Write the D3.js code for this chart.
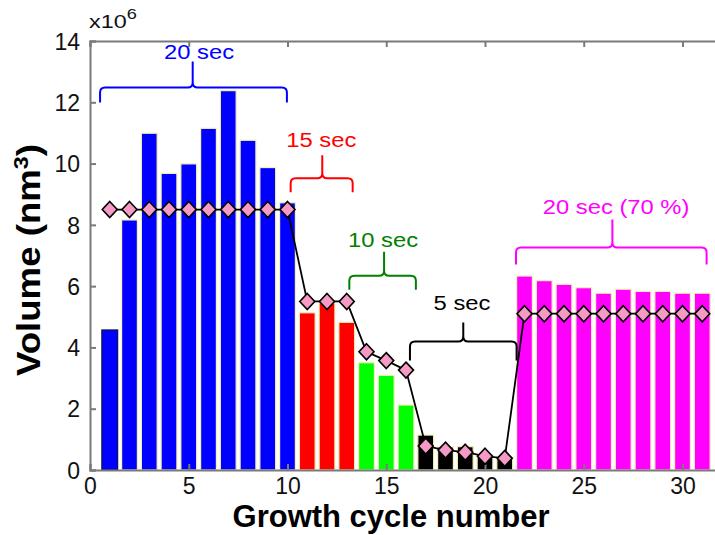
<!DOCTYPE html>
<html>
<head>
<meta charset="utf-8">
<script src="https://cdn.jsdelivr.net/npm/d3@7"></script>
<style>
  html, body { margin: 0; padding: 0; background: #fff; }
  svg { display: block; font-family: Arial, "Liberation Sans", sans-serif; }
</style>
</head>
<body>
<svg id="chart" width="715" height="535"></svg>
<script>
// Growth cycle numbers 1..31
const cycles = [1,2,3,4,5,6,7,8,9,10,11,12,13,14,15,16,17,18,19,20,21,22,23,24,25,26,27,28,29,30,31];
// Measured volume per cycle (x10^6 nm^3)
const volumes = [4.57, 8.16, 10.99, 9.68, 9.99, 11.15, 12.38, 10.76, 9.87, 8.72,
                 5.13, 5.45, 4.82,
                 3.50, 3.09, 2.12,
                 1.14, 0.75, 0.76, 0.50, 0.40,
                 6.33, 6.18, 6.06, 5.95, 5.77, 5.90, 5.83, 5.83, 5.77, 5.77];
// Expected volume per cycle (x10^6 nm^3)
const expected = [8.5, 8.5, 8.5, 8.5, 8.5, 8.5, 8.5, 8.5, 8.5, 8.5,
                  5.5, 5.5, 5.5,
                  3.86, 3.57, 3.26,
                  0.78, 0.65, 0.58, 0.45, 0.38,
                  5.1, 5.1, 5.1, 5.1, 5.1, 5.1, 5.1, 5.1, 5.1, 5.1];
// Pulse-time groups: label, cycle range, brace span / tip and level (x10^6)
const groupLabels = ["20 sec", "15 sec", "10 sec", "5 sec", "20 sec (70 %)"];
const groupFirst  = [1, 11, 14, 17, 22];
const groupLast   = [10, 13, 16, 21, 31];
const braceStart  = [0.51, 10.16, 13.13, 16.2, 21.57];
const braceEnd    = [9.97, 13.3, 16.5, 21.6, 31.22];
const braceTip    = [5.2, 11.76, 14.89, 18.9, 26.45];
const braceLevel  = [12.48, 9.52, 6.34, 4.19, 7.26];
const barColors   = ["#0000ff", "#ff0000", "#00ff00", "#000000", "#ff00ff"];
const textColors  = ["#0000ff", "#ff0000", "#008000", "#000000", "#ff00ff"];
// Axis ticks
const xTicks = [0, 5, 10, 15, 20, 25, 30];
const yTicks = [0, 2, 4, 6, 8, 10, 12, 14];

const svg = d3.select("#chart");
const plotLeft = 90, plotTop = 41, plotBottom = 470;

const x = d3.scaleLinear().domain([0, 32]).range([plotLeft, plotLeft + 32 * 19.75]);
const y = d3.scaleLinear().domain([0, 14]).range([plotBottom, plotTop]);

const groupOf = c => groupFirst.findIndex((f, i) => c >= f && c <= groupLast[i]);

// Bars
const barW = x(0.8) - x(0);
svg.append("g").selectAll("rect")
  .data(cycles)
  .join("rect")
  .attr("x", c => x(c) - barW / 2)
  .attr("y", (c, i) => y(volumes[i]))
  .attr("width", barW)
  .attr("height", (c, i) => y(0) - y(volumes[i]))
  .attr("fill", c => barColors[groupOf(c)])
  .attr("stroke", (c, i) => i === 0 ? "#10104a" : "#f3f0b8")
  .attr("stroke-width", 1.2);

// Axes box (bottom/left/top with inward ticks)
const axisColor = "#7a7a7a";
const gx = svg.append("g").attr("transform", `translate(0,${plotBottom})`)
  .call(d3.axisBottom(x).tickValues(xTicks).tickSize(-6).tickPadding(8).tickFormat(d3.format("d")));
const gxTop = svg.append("g").attr("transform", `translate(0,${plotTop})`)
  .call(d3.axisTop(x).tickValues(xTicks).tickSize(-6).tickFormat(""));
const gy = svg.append("g").attr("transform", `translate(${plotLeft},0)`)
  .call(d3.axisLeft(y).tickValues(yTicks).tickSize(-6).tickPadding(10).tickFormat(d3.format("d")));
[gx, gxTop, gy].forEach(g => {
  g.select(".domain").attr("stroke", axisColor).attr("stroke-width", 2);
  g.selectAll(".tick line").attr("stroke", axisColor).attr("stroke-width", 2);
  g.selectAll(".tick text").attr("fill", "#111").attr("font-size", 23)
    .attr("font-family", "Arial, 'Liberation Sans', sans-serif");
});
gy.selectAll(".tick text").attr("dy", "0.36em");

// Expected volume line with diamond markers
const line = d3.line().x(c => x(c)).y((c, i) => y(expected[i]));
svg.append("path").datum(cycles)
  .attr("d", line)
  .attr("fill", "none").attr("stroke", "#000").attr("stroke-width", 1.8);
const hw = 7.5, hh = 8;
svg.append("g").selectAll("path")
  .data(cycles)
  .join("path")
  .attr("transform", (c, i) => `translate(${x(c)},${y(expected[i])})`)
  .attr("d", `M0,${-hh}L${hw},0L0,${hh}L${-hw},0Z`)
  .attr("fill", "#f59ac4").attr("stroke", "#000").attr("stroke-width", 1.6);

// Braces and pulse-time labels
const r = 5;
const drops = [15, 14, 14, 19, 17];
const rises = [26, 23, 24, 19, 28];
const labelGap = [2.4, 8, 5, 13, 5.7];
const labelShift = [6.3, -1, -1, -1.3, 3.7];
groupLabels.forEach((lab, i) => {
  const x0 = x(braceStart[i]), x1 = x(braceEnd[i]), xc = x(braceTip[i]);
  const yh = y(braceLevel[i]);
  const drop = drops[i], rise = rises[i];
  const d = `M${x0},${yh + drop}L${x0},${yh + r}Q${x0},${yh} ${x0 + r},${yh}` +
            `L${xc - r},${yh}Q${xc},${yh} ${xc},${yh - r}L${xc},${yh - rise}` +
            `M${xc},${yh - r}Q${xc},${yh} ${xc + r},${yh}` +
            `L${x1 - r},${yh}Q${x1},${yh} ${x1},${yh + r}L${x1},${yh + drop}`;
  svg.append("path").attr("d", d).attr("fill", "none")
    .attr("stroke", textColors[i]).attr("stroke-width", 2);
  svg.append("text")
    .attr("transform", `translate(${xc + labelShift[i]},${yh - rise - labelGap[i]}) scale(1.16,1)`)
    .attr("text-anchor", "middle")
    .attr("font-size", 20.5)
    .attr("fill", textColors[i])
    .text(lab);
});

// Exponent marker
const ex = svg.append("text").attr("transform", "translate(89,28) scale(1.3,1)")
  .attr("font-size", 18).attr("fill", "#111");
ex.append("tspan").text("x10");
ex.append("tspan").attr("dy", -9).attr("font-size", 14).text("6");

// Axis titles
svg.append("text")
  .attr("x", 391).attr("y", 527)
  .attr("text-anchor", "middle")
  .attr("font-size", 31).attr("font-weight", "bold").attr("fill", "#000")
  .text("Growth cycle number");

const yl = svg.append("text")
  .attr("transform", "translate(40,260) rotate(-90) scale(1.11,1)")
  .attr("text-anchor", "middle")
  .attr("font-size", 33).attr("font-weight", "bold").attr("fill", "#000");
yl.append("tspan").text("Volume (nm");
yl.append("tspan").attr("dy", -12).attr("font-size", 21).text("3");
yl.append("tspan").attr("dy", 12).text(")");
</script>
</body>
</html>
